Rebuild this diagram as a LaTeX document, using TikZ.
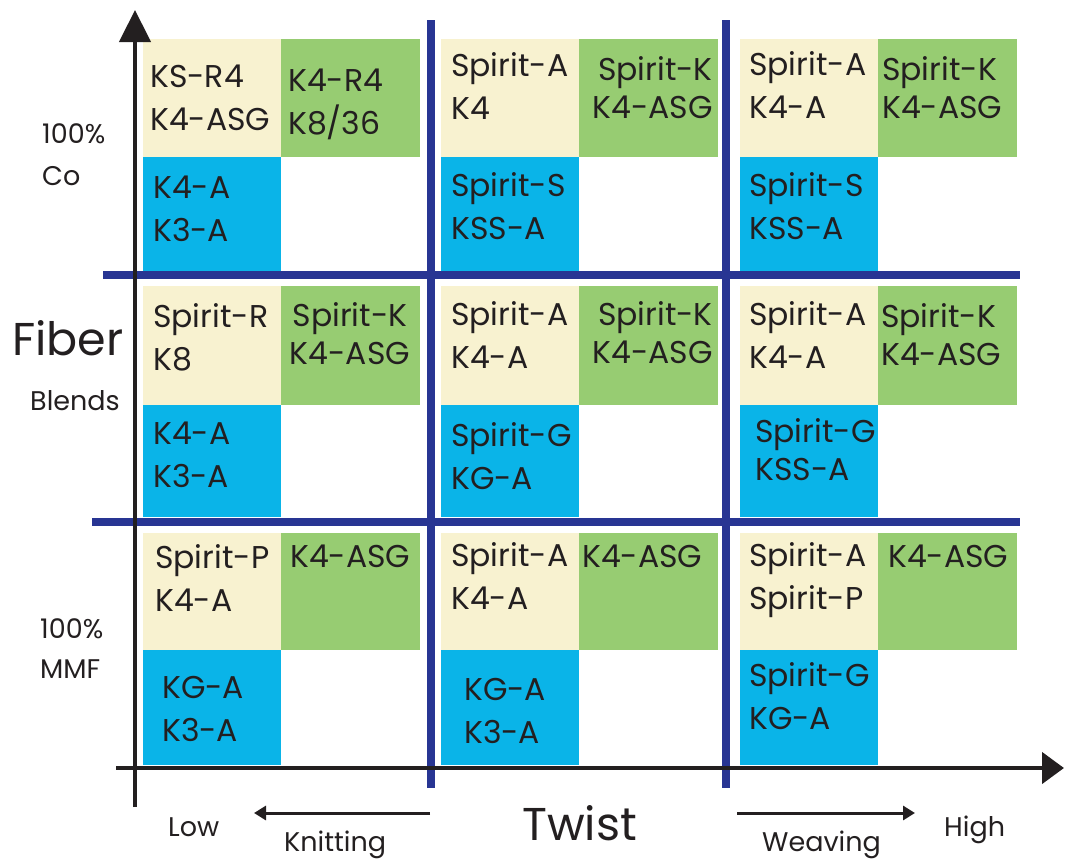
\documentclass[tikz,border=0pt]{standalone}
\usepackage{fontspec}
\setmainfont{Poppins}
\usetikzlibrary{arrows.meta}
\definecolor{cream}{HTML}{F8F2D0}
\definecolor{leaf}{HTML}{97CC72}
\definecolor{sky}{HTML}{0AB4E8}
\definecolor{navy}{HTML}{283593}
\definecolor{ink}{HTML}{231F20}

\begin{document}
\begin{tikzpicture}[x=1pt,y=-1pt,
  creamcell/.style={fill=cream},
  leafcell/.style={fill=leaf},
  skycell/.style={fill=sky},
  divider/.style={draw=navy,line width=8pt},
  cellt/.style={anchor=base west,align=left,inner sep=0pt,text=ink,
    font=\fontsize{31.5}{43}\selectfont},
  leaft/.style={cellt,font=\fontsize{31.5}{38}\selectfont},
  sidet/.style={anchor=base west,align=left,inner sep=0pt,text=ink,
    font=\fontsize{27}{42}\selectfont},
  bigt/.style={anchor=base west,inner sep=0pt,text=ink,font=\fontsize{46}{50}\selectfont}]
\useasboundingbox (0,0) rectangle (1066,860);
%%%%%%%%%%%%%%%%%%%%%%%%%%%%%% cells
\foreach \cx in {143,441,740}{
  \fill[creamcell] (\cx,39) rectangle ++(138,118);
  \fill[leafcell] (\cx+138,39) rectangle ++(139,118);
  \fill[skycell] (\cx,157) rectangle ++(138,114);
  \fill[creamcell] (\cx,286) rectangle ++(138,119);
  \fill[leafcell] (\cx+138,286) rectangle ++(139,119);
  \fill[skycell] (\cx,405) rectangle ++(138,112);
  \fill[creamcell] (\cx,533) rectangle ++(138,117);
  \fill[leafcell] (\cx+138,533) rectangle ++(139,117);
  \fill[skycell] (\cx,650) rectangle ++(138,115);
}
%%%%%%%%%%%%%%%%%%%%%%%%%%%%%% dividers
\coordinate (V1a) at (431,20); \coordinate (V1b) at (431,788);
\coordinate (V2a) at (726,20); \coordinate (V2b) at (726,788);
\coordinate (H1a) at (103,275); \coordinate (H1b) at (1020,275);
\coordinate (H2a) at (92,522); \coordinate (H2b) at (1020,522);
\draw[divider] (V1a) -- (V1b);
\draw[divider] (V2a) -- (V2b);
\draw[divider] (H1a) -- (H1b);
\draw[divider] (H2a) -- (H2b);
%%%%%%%%%%%%%%%%%%%%%%%%%%%%%% axes
\coordinate (O1) at (135,807); \coordinate (Ytop) at (135,10);
\coordinate (O2) at (116,768); \coordinate (Xend) at (1064,768);
\draw[ink,line width=4.5pt,-{Triangle[width=31pt,length=32pt]}] (O1) -- (Ytop);
\draw[ink,line width=4.5pt,-{Triangle[width=31pt,length=22pt]}] (O2) -- (Xend);
%%%%%%%%%%%%%%%%%%%%%%%%%%%%%% column 1 (base = last line)
\node[cellt] (A1) at (150,130) {KS-R4\\K4-ASG};
\node[cellt] (A2) at (288,134) {K4-R4\\K8/36};
\node[cellt] (A3) at (153,241) {K4-A\\K3-A};
\node[cellt] (B1) at (153,370) {Spirit-R\\K8};
\node[leaft,anchor=base,align=center] (B2) at (350,364) {Spirit-K\\K4-ASG};
\node[cellt] (B3) at (153,487) {K4-A\\K3-A};
\node[cellt] (C1) at (155,611) {Spirit-P\\K4-A};
\node[cellt] (C2) at (290,567) {K4-ASG};
\node[cellt] (C3) at (162,741) {KG-A\\K3-A};
%%%%%%%%%%%%%%%%%%%%%%%%%%%%%% column 2
\node[cellt] (D1) at (451,119) {Spirit-A\\K4};
\node[leaft,anchor=base east,align=right] (D2) at (713,118) {Spirit-K\\K4-ASG};
\node[cellt] (D3) at (451,239) {Spirit-S\\KSS-A};
\node[cellt] (E1) at (451,368) {Spirit-A\\K4-A};
\node[leaft,anchor=base east,align=right] (E2) at (713,363) {Spirit-K\\K4-ASG};
\node[cellt] (E3) at (451,489) {Spirit-G\\KG-A};
\node[cellt] (F1) at (451,609) {Spirit-A\\K4-A};
\node[cellt] (F2) at (582,567) {K4-ASG};
\node[cellt] (F3) at (464,743) {KG-A\\K3-A};
%%%%%%%%%%%%%%%%%%%%%%%%%%%%%% column 3
\node[cellt] (G1) at (749,118) {Spirit-A\\K4-A};
\node[leaft] (G2) at (882,118) {Spirit-K\\K4-ASG};
\node[cellt] (G3) at (749,239) {Spirit-S\\KSS-A};
\node[cellt] (H1) at (749,368) {Spirit-A\\K4-A};
\node[leaft] (H2) at (881,365) {Spirit-K\\K4-ASG};
\node[leaft] (H3) at (755,480) {Spirit-G\\KSS-A};
\node[cellt] (I1) at (749,609) {Spirit-A\\Spirit-P};
\node[cellt] (I2) at (888,567) {K4-ASG};
\node[cellt] (I3) at (749,729) {Spirit-G\\KG-A};
%%%%%%%%%%%%%%%%%%%%%%%%%%%%%% axis labels
\node[sidet] (Co) at (42,185) {100\%\\Co};
\node[bigt] (Fiber) at (12,355) {Fiber};
\node[sidet] (Blends) at (30,410) {Blends};
\node[sidet,font=\fontsize{27}{40}\selectfont] (MMF) at (40,678) {100\%\\MMF};
\node[bigt] (Twist) at (522,840) {Twist};
\node[sidet] (Low) at (168,836) {Low};
\node[sidet] (Knit) at (284,851) {Knitting};
\node[sidet] (Weave) at (762,851) {Weaving};
\node[sidet] (High) at (944,836) {High};
\coordinate (K1) at (430,813); \coordinate (K2) at (254,813);
\coordinate (W1) at (737,813); \coordinate (W2) at (915,813);
\draw[ink,line width=3pt,-{Triangle[width=14pt,length=12pt]}] (K1) -- (K2);
\draw[ink,line width=3pt,-{Triangle[width=14pt,length=12pt]}] (W1) -- (W2);
\end{tikzpicture}
\end{document}
